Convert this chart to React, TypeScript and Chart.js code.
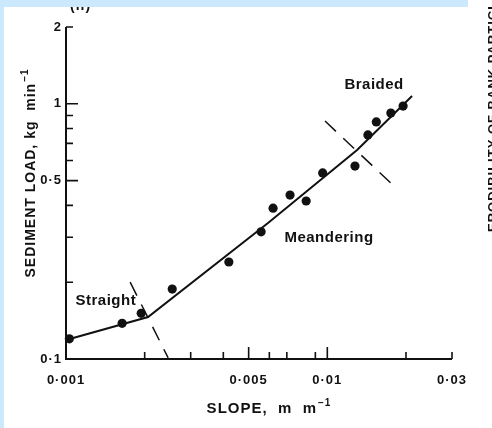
import React, { useEffect, useRef } from "react";
import { Chart, registerables } from "chart.js";

Chart.register(...registerables);

// Channel runs: slope (m m^-1) against sediment load (kg min^-1)
const slopes = [0.00103, 0.00164, 0.00194, 0.00255, 0.0042, 0.00558, 0.0062, 0.0072, 0.0083, 0.0096, 0.01276, 0.0143, 0.0154, 0.0175, 0.0195];
const loads = [0.12, 0.138, 0.151, 0.188, 0.24, 0.315, 0.39, 0.439, 0.416, 0.536, 0.57, 0.755, 0.849, 0.92, 0.98];

// Fitted trend through the straight, meandering and braided runs
const trendSlopes = [0.001, 0.00206, 0.00593, 0.013, 0.0211];
const trendLoads = [0.1187, 0.146, 0.341, 0.659, 1.073];

// Dashed thresholds between channel patterns
const straightLimitSlopes = [0.00176, 0.00246];
const straightLimitLoads = [0.2, 0.101];
const braidedLimitSlopes = [0.0098, 0.0178];
const braidedLimitLoads = [0.856, 0.481];

// Channel pattern names, placed in data units
const patternNames = ["Straight", "Meandering", "Braided"];
const patternSlopes = [0.00142, 0.01015, 0.0151];
const patternLoads = [0.163, 0.287, 1.14];

// Axis labels and tick marks
const slopeLabelTicks = [0.001, 0.005, 0.01, 0.03];
const slopeMajorMarks = [0.005, 0.01];
const slopeMinorMarks = [0.002, 0.003, 0.004, 0.006, 0.007, 0.009, 0.02, 0.03];
const loadLabelTicks = [0.1, 0.5, 1, 2];
const loadMajorMarks = [0.5, 1];
const loadMinorMarks = [0.2, 0.3, 0.4, 0.6, 0.7, 0.8, 0.9, 2];

const INK = "#111111";
const BAND = "rgb(204,232,252)";
const FAMILY = "'Liberation Sans', Arial, Helvetica, sans-serif";

const fmt = (v: number) => String(v).replace(".", "\u00b7");

const framePlugin = {
  id: "frame",
  beforeDraw(chart: any) {
    (chart.ctx as any).letterSpacing = "1px";
  },
  afterDatasetsDraw(chart: any) {
    const { ctx, chartArea: a, scales } = chart;
    const x = scales.x;
    const y = scales.y;
    ctx.save();
    ctx.strokeStyle = INK;
    ctx.lineCap = "butt";

    // axis lines
    ctx.lineWidth = 2;
    const top = y.getPixelForValue(2);
    const right = x.getPixelForValue(0.03);
    ctx.beginPath();
    ctx.moveTo(a.left, top);
    ctx.lineTo(a.left, a.bottom);
    ctx.lineTo(right, a.bottom);
    ctx.stroke();

    // inward tick marks
    ctx.lineWidth = 1.6;
    ctx.beginPath();
    const yTick = (v: number, len: number) => {
      const p = y.getPixelForValue(v);
      ctx.moveTo(a.left, p);
      ctx.lineTo(a.left + len, p);
    };
    const xTick = (v: number, len: number) => {
      const p = x.getPixelForValue(v);
      ctx.moveTo(p, a.bottom);
      ctx.lineTo(p, a.bottom - len);
    };
    loadMajorMarks.forEach((v) => yTick(v, 12));
    loadMinorMarks.forEach((v) => yTick(v, 7));
    slopeMajorMarks.forEach((v) => xTick(v, 12));
    slopeMinorMarks.forEach((v) => xTick(v, 7));
    ctx.stroke();

    // pattern names
    ctx.fillStyle = INK;
    ctx.font = `bold 15px ${FAMILY}`;
    ctx.letterSpacing = "0.5px";
    ctx.textAlign = "center";
    ctx.textBaseline = "alphabetic";
    patternNames.forEach((name, i) => {
      ctx.fillText(name, x.getPixelForValue(patternSlopes[i]), y.getPixelForValue(patternLoads[i]));
    });
    ctx.restore();
  },
  afterDraw(chart: any) {
    const { ctx, chartArea: a, width } = chart;
    ctx.save();
    ctx.fillStyle = INK;
    ctx.textBaseline = "alphabetic";
    ctx.textAlign = "left";

    // x axis title with superscript
    ctx.letterSpacing = "1px";
    ctx.font = `bold 15px ${FAMILY}`;
    const xMain = "SLOPE,  m  m";
    const xmw = ctx.measureText(xMain).width;
    ctx.font = `bold 10px ${FAMILY}`;
    const sup = "\u22121";
    const xsw = ctx.measureText(sup).width;
    const xTotal = xmw + 1 + xsw;
    const xc = 269;
    const xb = a.bottom + 54;
    ctx.font = `bold 15px ${FAMILY}`;
    ctx.fillText(xMain, xc - xTotal / 2, xb);
    ctx.font = `bold 10px ${FAMILY}`;
    ctx.fillText(sup, xc - xTotal / 2 + xmw + 1, xb - 7);

    // y axis title, rotated
    ctx.font = `bold 14px ${FAMILY}`;
    const yMain = "SEDIMENT LOAD, kg  min";
    const ymw = ctx.measureText(yMain).width;
    ctx.font = `bold 10px ${FAMILY}`;
    const ysw = ctx.measureText(sup).width;
    const yTotal = ymw + 1 + ysw;
    ctx.save();
    ctx.translate(a.left - 31, 173);
    ctx.rotate(-Math.PI / 2);
    ctx.font = `bold 14px ${FAMILY}`;
    ctx.fillText(yMain, -yTotal / 2, 0);
    ctx.font = `bold 10px ${FAMILY}`;
    ctx.fillText(sup, -yTotal / 2 + ymw + 1, -7);
    ctx.restore();

    // panel mark
    ctx.font = `bold 14px ${FAMILY}`;
    ctx.fillText("(ii)", 70, 10);

    // neighbouring panel title along the right edge
    ctx.save();
    ctx.font = `bold 13px ${FAMILY}`;
    ctx.translate(width + 5, 232);
    ctx.rotate(-Math.PI / 2);
    ctx.fillText("ERODIBILITY OF BANK PARTICLES", 0, 0);
    ctx.restore();

    ctx.restore();
  },
};

export default function App() {
  const ref = useRef<HTMLCanvasElement>(null);

  useEffect(() => {
    const prevMargin = document.body.style.margin;
    document.body.style.margin = "0";
    Chart.defaults.font.family = FAMILY;

    const chart = new Chart(ref.current as HTMLCanvasElement, {
      type: "scatter",
      data: {
        datasets: [
          {
            label: "Runs",
            data: slopes.map((s, i) => ({ x: s, y: loads[i] })),
            pointRadius: 4.6,
            pointBackgroundColor: INK,
            pointBorderColor: INK,
            pointBorderWidth: 0,
            showLine: false,
            clip: false,
          },
          {
            label: "Trend",
            data: trendSlopes.map((s, i) => ({ x: s, y: trendLoads[i] })),
            showLine: true,
            borderColor: INK,
            borderWidth: 2,
            pointRadius: 0,
            tension: 0,
            clip: false,
          },
          {
            label: "Straight limit",
            data: straightLimitSlopes.map((s, i) => ({ x: s, y: straightLimitLoads[i] })),
            showLine: true,
            borderColor: INK,
            borderWidth: 1.5,
            borderDash: [15, 10],
            pointRadius: 0,
            clip: false,
          },
          {
            label: "Braided limit",
            data: braidedLimitSlopes.map((s, i) => ({ x: s, y: braidedLimitLoads[i] })),
            showLine: true,
            borderColor: INK,
            borderWidth: 1.5,
            borderDash: [15, 10],
            pointRadius: 0,
            clip: false,
          },
        ],
      },
      options: {
        responsive: false,
        animation: false,
        devicePixelRatio: 1,
        layout: { padding: { top: 27, right: 40, left: 0, bottom: 0 } },
        plugins: {
          legend: { display: false },
          tooltip: { enabled: false },
        },
        scales: {
          x: {
            type: "logarithmic",
            position: "bottom",
            min: 0.001,
            max: 0.03,
            afterFit: (s: any) => {
              s.height = 69;
            },
            afterBuildTicks: (s: any) => {
              s.ticks = slopeLabelTicks.map((v) => ({ value: v }));
            },
            grid: { display: false, drawTicks: false },
            border: { display: false },
            ticks: {
              color: INK,
              font: { family: FAMILY, size: 13, weight: "bold" },
              padding: 14,
              maxRotation: 0,
              autoSkip: false,
              callback: (v: any) => fmt(Number(v)),
            },
          },
          y: {
            type: "logarithmic",
            position: "left",
            min: 0.1,
            max: 2,
            afterFit: (s: any) => {
              s.width = 66;
            },
            afterBuildTicks: (s: any) => {
              s.ticks = loadLabelTicks.map((v) => ({ value: v }));
            },
            grid: { display: false, drawTicks: false },
            border: { display: false },
            ticks: {
              color: INK,
              font: { family: FAMILY, size: 13, weight: "bold" },
              padding: 4,
              autoSkip: false,
              callback: (v: any) => fmt(Number(v)),
            },
          },
        },
      } as any,
      plugins: [framePlugin],
    });

    return () => {
      chart.destroy();
      document.body.style.margin = prevMargin;
    };
  }, []);

  return (
    <div style={{ position: "relative", width: 492, height: 428, background: "#ffffff", overflow: "hidden" }}>
      <canvas ref={ref} width={492} height={428} style={{ display: "block", width: 492, height: 428 }} />
      <div style={{ position: "absolute", left: 0, top: 0, width: 468, height: 7, background: BAND }} />
      <div style={{ position: "absolute", left: 0, top: 0, width: 4, height: 428, background: BAND }} />
    </div>
  );
}
